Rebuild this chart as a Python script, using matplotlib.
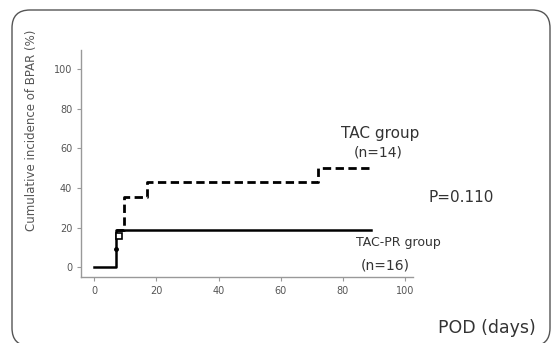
import matplotlib
matplotlib.use("Agg")
import matplotlib.pyplot as plt
from matplotlib.patches import FancyBboxPatch

# step data
tac_days = [7, 9.5, 17, 72, 89]
tac_pct = [19, 35.7, 42.9, 50, 50]
pr_days = [0, 7, 89]
pr_pct = [0, 18.8, 18.8]
ticks = [0, 20, 40, 60, 80, 100]

fig = plt.figure(figsize=(5.56, 3.43), dpi=100)
fig.patch.set_facecolor("white")

# rounded frame around the whole panel (inches, bottom edge falls off the image)
frame = FancyBboxPatch((0.12, -0.03), 5.38, 3.36, boxstyle="round,pad=0,rounding_size=0.18",
                       transform=fig.dpi_scale_trans, fill=False, ec="#555555", lw=1.0)
fig.patches.append(frame)

ax = fig.add_axes([0.146, 0.192, 0.597, 0.662])
ax.step(tac_days, tac_pct, where="post", color="black", lw=2.0, ls=(0, (3, 1.6)), zorder=2)
ax.step(pr_days, pr_pct, where="post", color="black", lw=1.8, zorder=3)
ax.plot([8], [16], marker="s", ms=4, mfc="white", mec="black", mew=1.2, zorder=4)
ax.plot([7], [9], marker="o", ms=2.5, color="black", zorder=4)

ax.set_xlim(-4.2, 102.6)
ax.set_ylim(-5, 109.6)
ax.set_xticks(ticks)
ax.set_yticks(ticks)
for s in ["top", "right"]:
    ax.spines[s].set_visible(False)
for s in ["left", "bottom"]:
    ax.spines[s].set_color("#999999")
    ax.spines[s].set_linewidth(1.0)
ax.tick_params(colors="#999999", labelcolor="#555555", labelsize=7, length=3, width=0.8)

fig.text(0.056, 0.621, "Cumulative incidence of BPAR (%)", rotation=90, ha="center", va="center",
         fontsize=8.5, color="#555555")
fig.text(0.683, 0.612, "TAC group", ha="center", va="center", fontsize=11, color="#333333")
fig.text(0.680, 0.554, "(n=14)", ha="center", va="center", fontsize=10, color="#333333")
fig.text(0.829, 0.423, "P=0.110", ha="center", va="center", fontsize=11, color="#333333")
fig.text(0.716, 0.292, "TAC-PR group", ha="center", va="center", fontsize=9, color="#333333")
fig.text(0.692, 0.227, "(n=16)", ha="center", va="center", fontsize=10, color="#333333")
fig.text(0.876, 0.044, "POD (days)", ha="center", va="center", fontsize=12.5, color="#333333")

fig.savefig("out.png", dpi=100)
